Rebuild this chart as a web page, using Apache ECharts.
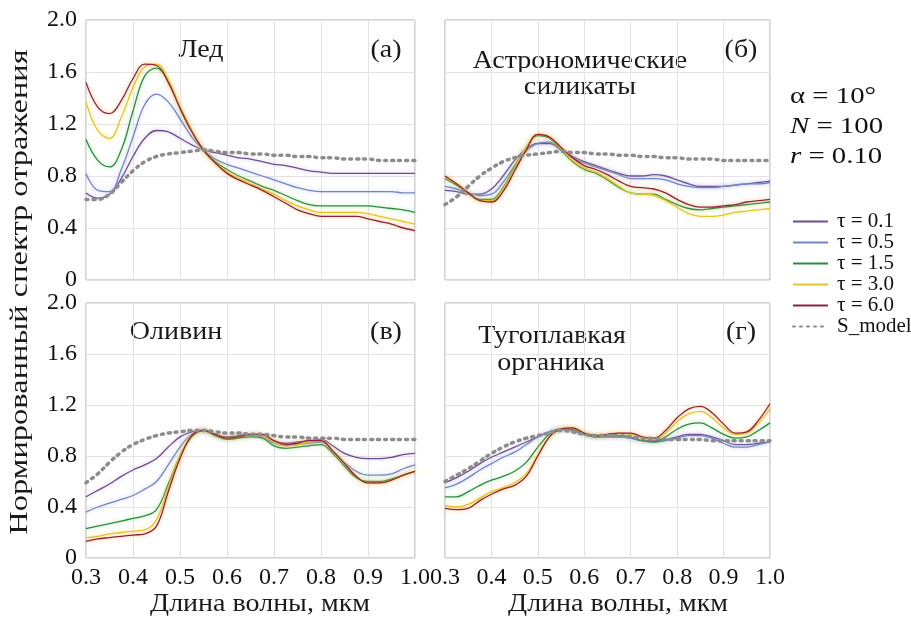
<!DOCTYPE html>
<html>
<head>
<meta charset="utf-8">
<script src="https://cdn.jsdelivr.net/npm/echarts@6/dist/echarts.min.js"></script>
<style>
  html, body { margin: 0; padding: 0; background: #fff; }
  #main { width: 911px; height: 619px; }
</style>
</head>
<body>
<div id="main"></div>
<script>
// wavelength grid, um
const wl = [0.300, 0.325, 0.350, 0.375, 0.400, 0.425, 0.450, 0.475, 0.500, 0.525,
  0.550, 0.575, 0.600, 0.625, 0.650, 0.675, 0.700, 0.725, 0.750, 0.775,
  0.800, 0.825, 0.850, 0.875, 0.900, 0.925, 0.950, 0.975, 1.000]

const seriesNames = ['τ = 0.1', 'τ = 0.5', 'τ = 1.5', 'τ = 3.0', 'τ = 6.0', 'S_model']
const yTicks = [0, 0.4, 0.8, 1.2, 1.6, 2.0]

// (а) Лед
const iceT01 = [0.67, 0.63, 0.66, 0.78, 0.95, 1.09, 1.15, 1.14, 1.09, 1.04, 1.00, 0.98, 0.96, 0.94, 0.93, 0.91, 0.89, 0.88, 0.86, 0.84, 0.83, 0.82, 0.82, 0.82, 0.82, 0.82, 0.82, 0.82, 0.82]
const iceT05 = [0.82, 0.69, 0.68, 0.85, 1.10, 1.35, 1.43, 1.37, 1.24, 1.10, 1.00, 0.93, 0.89, 0.86, 0.83, 0.80, 0.77, 0.74, 0.71, 0.69, 0.68, 0.68, 0.68, 0.68, 0.68, 0.68, 0.68, 0.67, 0.67]
const iceT15 = [1.08, 0.92, 0.87, 1.00, 1.30, 1.57, 1.63, 1.53, 1.33, 1.15, 1.00, 0.91, 0.85, 0.80, 0.76, 0.72, 0.69, 0.65, 0.61, 0.58, 0.57, 0.57, 0.57, 0.57, 0.57, 0.56, 0.55, 0.54, 0.52]
const iceT30 = [1.37, 1.15, 1.09, 1.25, 1.48, 1.64, 1.66, 1.54, 1.33, 1.15, 1.00, 0.90, 0.83, 0.78, 0.74, 0.70, 0.66, 0.61, 0.57, 0.54, 0.52, 0.52, 0.52, 0.52, 0.51, 0.49, 0.47, 0.45, 0.43]
const iceT60 = [1.52, 1.33, 1.28, 1.38, 1.55, 1.66, 1.65, 1.52, 1.32, 1.14, 1.00, 0.90, 0.82, 0.77, 0.73, 0.69, 0.64, 0.59, 0.54, 0.51, 0.49, 0.49, 0.49, 0.49, 0.47, 0.45, 0.43, 0.40, 0.38]
const iceModel = [0.62, 0.62, 0.66, 0.75, 0.84, 0.91, 0.95, 0.97, 0.98, 0.99, 1.00, 0.99, 0.98, 0.98, 0.97, 0.97, 0.96, 0.96, 0.95, 0.95, 0.94, 0.94, 0.93, 0.93, 0.93, 0.92, 0.92, 0.92, 0.92]

// (б) Астрономические силикаты
const silT01 = [0.69, 0.68, 0.66, 0.66, 0.70, 0.80, 0.92, 1.01, 1.05, 1.05, 1.00, 0.95, 0.91, 0.88, 0.85, 0.82, 0.80, 0.80, 0.81, 0.80, 0.77, 0.74, 0.72, 0.72, 0.72, 0.73, 0.74, 0.75, 0.76]
const silT05 = [0.72, 0.70, 0.67, 0.65, 0.66, 0.75, 0.88, 0.99, 1.05, 1.06, 1.00, 0.94, 0.90, 0.87, 0.84, 0.81, 0.78, 0.78, 0.78, 0.77, 0.74, 0.72, 0.71, 0.71, 0.72, 0.73, 0.74, 0.74, 0.75]
const silT15 = [0.78, 0.73, 0.67, 0.62, 0.62, 0.71, 0.87, 1.02, 1.11, 1.09, 1.00, 0.91, 0.85, 0.82, 0.77, 0.71, 0.67, 0.66, 0.66, 0.62, 0.58, 0.55, 0.54, 0.55, 0.56, 0.57, 0.58, 0.59, 0.60]
const silT30 = [0.79, 0.74, 0.67, 0.61, 0.61, 0.70, 0.86, 1.02, 1.12, 1.10, 1.01, 0.92, 0.86, 0.83, 0.78, 0.72, 0.67, 0.66, 0.65, 0.61, 0.56, 0.51, 0.49, 0.49, 0.50, 0.52, 0.53, 0.54, 0.55]
const silT60 = [0.80, 0.74, 0.67, 0.61, 0.60, 0.68, 0.84, 1.00, 1.12, 1.10, 1.02, 0.94, 0.88, 0.85, 0.81, 0.76, 0.72, 0.71, 0.70, 0.67, 0.62, 0.58, 0.56, 0.56, 0.57, 0.58, 0.60, 0.61, 0.62]
const silModel = [0.58, 0.64, 0.72, 0.80, 0.86, 0.91, 0.94, 0.96, 0.97, 0.98, 0.99, 0.98, 0.98, 0.97, 0.97, 0.96, 0.96, 0.95, 0.95, 0.94, 0.94, 0.93, 0.93, 0.93, 0.92, 0.92, 0.92, 0.92, 0.92]

// (в) Оливин
const olT01 = [0.48, 0.53, 0.58, 0.64, 0.69, 0.73, 0.78, 0.87, 0.95, 0.99, 1.00, 0.97, 0.95, 0.96, 0.97, 0.96, 0.92, 0.90, 0.91, 0.92, 0.93, 0.88, 0.82, 0.79, 0.78, 0.78, 0.79, 0.81, 0.82]
const olT05 = [0.36, 0.40, 0.43, 0.46, 0.49, 0.54, 0.60, 0.73, 0.87, 0.97, 1.00, 0.96, 0.94, 0.95, 0.96, 0.95, 0.90, 0.88, 0.89, 0.90, 0.91, 0.84, 0.75, 0.68, 0.65, 0.65, 0.66, 0.70, 0.73]
const olT15 = [0.23, 0.25, 0.27, 0.29, 0.31, 0.33, 0.38, 0.58, 0.80, 0.95, 1.00, 0.96, 0.93, 0.94, 0.95, 0.94, 0.88, 0.86, 0.87, 0.88, 0.89, 0.82, 0.72, 0.63, 0.60, 0.60, 0.62, 0.65, 0.68]
const olT30 = [0.16, 0.17, 0.19, 0.20, 0.21, 0.22, 0.30, 0.55, 0.80, 0.96, 1.00, 0.97, 0.94, 0.95, 0.97, 0.96, 0.91, 0.88, 0.89, 0.91, 0.92, 0.84, 0.74, 0.64, 0.59, 0.59, 0.61, 0.65, 0.68]
const olT60 = [0.13, 0.15, 0.16, 0.17, 0.18, 0.19, 0.25, 0.52, 0.78, 0.96, 1.00, 0.97, 0.94, 0.95, 0.97, 0.97, 0.92, 0.89, 0.90, 0.92, 0.92, 0.84, 0.74, 0.64, 0.59, 0.59, 0.61, 0.65, 0.68]
const olModel = [0.59, 0.66, 0.75, 0.83, 0.89, 0.93, 0.96, 0.98, 0.99, 1.00, 1.00, 0.99, 0.98, 0.98, 0.97, 0.97, 0.96, 0.95, 0.95, 0.94, 0.94, 0.94, 0.93, 0.93, 0.93, 0.93, 0.93, 0.93, 0.93]

// (г) Тугоплавкая органика
const orgT01 = [0.59, 0.63, 0.68, 0.74, 0.79, 0.83, 0.87, 0.91, 0.95, 0.99, 1.01, 1.00, 0.97, 0.95, 0.95, 0.95, 0.94, 0.92, 0.92, 0.93, 0.95, 0.97, 0.97, 0.95, 0.92, 0.89, 0.89, 0.90, 0.91]
const orgT05 = [0.55, 0.58, 0.63, 0.69, 0.74, 0.79, 0.83, 0.89, 0.95, 0.99, 1.01, 1.00, 0.97, 0.95, 0.95, 0.95, 0.94, 0.92, 0.91, 0.92, 0.94, 0.96, 0.96, 0.94, 0.90, 0.87, 0.87, 0.89, 0.91]
const orgT15 = [0.48, 0.48, 0.52, 0.57, 0.61, 0.64, 0.68, 0.75, 0.87, 0.97, 1.01, 1.01, 0.97, 0.95, 0.96, 0.96, 0.95, 0.92, 0.91, 0.95, 1.01, 1.05, 1.06, 1.02, 0.97, 0.94, 0.95, 1.00, 1.06]
const orgT30 = [0.41, 0.40, 0.42, 0.47, 0.52, 0.55, 0.59, 0.66, 0.81, 0.95, 1.01, 1.02, 0.98, 0.96, 0.97, 0.98, 0.97, 0.94, 0.93, 0.98, 1.07, 1.13, 1.15, 1.10, 1.02, 0.97, 0.98, 1.06, 1.17]
const orgT60 = [0.39, 0.38, 0.39, 0.45, 0.50, 0.54, 0.57, 0.64, 0.80, 0.95, 1.01, 1.02, 0.98, 0.96, 0.97, 0.98, 0.98, 0.95, 0.94, 1.00, 1.10, 1.17, 1.19, 1.14, 1.05, 0.98, 0.99, 1.08, 1.21]
const orgModel = [0.60, 0.65, 0.70, 0.76, 0.82, 0.87, 0.91, 0.94, 0.96, 0.98, 1.00, 0.99, 0.97, 0.96, 0.96, 0.96, 0.95, 0.94, 0.94, 0.93, 0.93, 0.93, 0.93, 0.92, 0.92, 0.92, 0.92, 0.92, 0.92]

const panels = [
  [iceT01, iceT05, iceT15, iceT30, iceT60, iceModel],
  [silT01, silT05, silT15, silT30, silT60, silModel],
  [olT01, olT05, olT15, olT30, olT60, olModel],
  [orgT01, orgT05, orgT15, orgT30, orgT60, orgModel]
]

const lineColors = ['#6b4e8e', '#7285c2', '#2c8a40', '#e2c526', '#8e2340', '#8c8c8c']
const haloColors = ['rgba(170,140,210,0.6)', 'rgba(150,170,235,0.6)', 'rgba(110,215,110,0.6)',
  'rgba(255,225,90,0.7)', 'rgba(255,150,50,0.7)', 'rgba(0,0,0,0)']

const serif = '"Liberation Serif", "DejaVu Serif", serif'
const tickFont = { fontFamily: serif, fontSize: 24, color: '#111' }

const grids = [
  { left: 86, top: 20, width: 329, height: 260 },
  { left: 445, top: 20, width: 325, height: 260 },
  { left: 86, top: 303, width: 329, height: 255 },
  { left: 445, top: 303, width: 325, height: 255 }
]

const xAxes = grids.map((g, i) => ({
  type: 'value', gridIndex: i, min: 0.3, max: 1.0, interval: 0.1,
  axisLine: { show: false }, axisTick: { show: false },
  splitLine: { show: true, lineStyle: { color: '#e4e4e4', width: 1 } },
  axisLabel: {
    show: i >= 2, margin: 8, ...tickFont,
    formatter: v => v.toFixed(1)
  }
}))

const yAxes = grids.map((g, i) => ({
  type: 'value', gridIndex: i, min: yTicks[0], max: yTicks[yTicks.length - 1], interval: 0.4,
  axisLine: { show: false }, axisTick: { show: false },
  splitLine: { show: true, lineStyle: { color: '#e4e4e4', width: 1 } },
  axisLabel: {
    show: i % 2 === 0, margin: 9, ...tickFont,
    formatter: v => (v === 0 ? '0' : v.toFixed(1))
  }
}))

const series = []
panels.forEach((curves, p) => {
  curves.forEach((vals, k) => {
    const isModel = k === 5
    series.push({
      name: seriesNames[k],
      type: 'line',
      xAxisIndex: p,
      yAxisIndex: p,
      smooth: 0.4,
      showSymbol: false,
      symbol: 'none',
      z: isModel ? 3 : 2,
      color: lineColors[k],
      lineStyle: isModel
        ? { color: lineColors[k], width: 3.5, type: [2, 5], cap: 'round' }
        : { color: lineColors[k], width: 1.3, shadowColor: haloColors[k], shadowBlur: 4 },
      data: wl.map((x, j) => [x, vals[j]])
    })
  })
})

// text placed at its centre, stretched a little sideways like the scanned figure
const txt = (text, x, y, size, sx) => ({
  type: 'text', x: x, y: y, scaleX: sx || 1.12,
  style: { text: text, font: size + 'px ' + serif, fill: '#1a1a1a', textAlign: 'center', textVerticalAlign: 'middle' }
})

const myChart = echarts.init(document.getElementById('main'))
myChart.setOption({
  animation: false,
  backgroundColor: '#fff',
  grid: grids.map(g => ({ ...g, show: true, borderColor: '#a8a8a8', borderWidth: 1, backgroundColor: 'transparent' })),
  xAxis: xAxes,
  yAxis: yAxes,
  legend: {
    orient: 'vertical', left: 787, top: 206,
    itemWidth: 35, itemHeight: 14, itemGap: 0,
    itemStyle: { opacity: 0 },
    data: seriesNames,
    textStyle: { fontFamily: serif, fontSize: 21, lineHeight: 21, color: '#111', padding: [0, 0, 0, 4] }
  },
  series: series,
  graphic: [
    txt('Лед', 201, 50, 25),
    txt('(а)', 386, 50, 25),
    txt('Астрономические', 580, 61, 25),
    txt('силикаты', 580, 87, 25),
    txt('(б)', 741, 50, 25),
    txt('Оливин', 176, 332, 25),
    txt('(в)', 386, 332, 25),
    txt('Тугоплавкая', 552, 336, 25),
    txt('органика', 551, 363, 25),
    txt('(г)', 741, 332, 25),
    txt('Длина волны, мкм', 260, 604, 25),
    txt('Длина волны, мкм', 618, 604, 25),
    {
      type: 'text', x: 20, y: 292, rotation: Math.PI / 2, scaleX: 1.3,
      style: { text: 'Нормированный спектр отражения', font: '25px ' + serif, fill: '#1a1a1a', textAlign: 'center', textVerticalAlign: 'middle' }
    },
    {
      type: 'text', x: 790, y: 97, scaleX: 1.2,
      style: {
        text: 'α = 10°', font: '24px ' + serif, fill: '#111', textVerticalAlign: 'middle'
      }
    },
    {
      type: 'text', x: 790, y: 127, scaleX: 1.2,
      style: {
        text: '{i|N} = 100', font: '24px ' + serif, fill: '#111', textVerticalAlign: 'middle',
        rich: { i: { fontStyle: 'italic', fontFamily: serif, fontSize: 24 } }
      }
    },
    {
      type: 'text', x: 790, y: 157, scaleX: 1.2,
      style: {
        text: '{i|r} = 0.10', font: '24px ' + serif, fill: '#111', textVerticalAlign: 'middle',
        rich: { i: { fontStyle: 'italic', fontFamily: serif, fontSize: 24 } }
      }
    }
  ]
})
</script>
</body>
</html>
